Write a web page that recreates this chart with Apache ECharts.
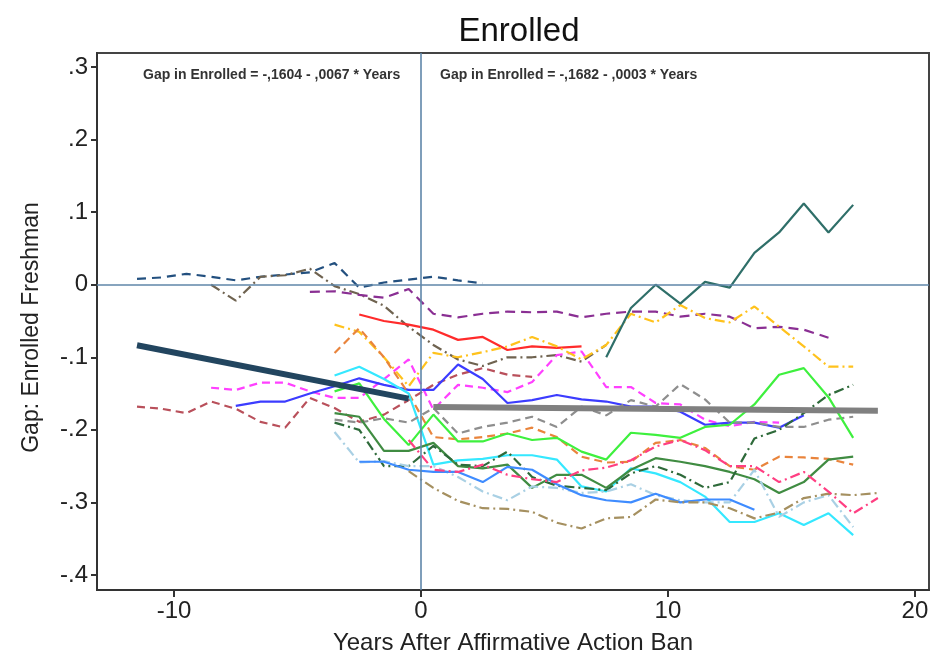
<!DOCTYPE html>
<html>
<head>
<meta charset="utf-8">
<script src="https://cdn.jsdelivr.net/npm/echarts@6/dist/echarts.min.js"></script>
<style>
  html, body { margin: 0; padding: 0; background: #ffffff; }
  #chart { width: 933px; height: 657px; }
</style>
</head>
<body>
<div id="chart"></div>
<script>
// Enrollment gap by campus, in half-year steps relative to the ban (first value at *Start).
const navyDashStart = -11.5;
const navyDash = [0.008, 0.010, 0.015, 0.011, 0.006, 0.011, 0.014, 0.017, 0.030, -0.004, 0.003, 0.007, 0.011, 0.006, 0.002];

const oliveDashDotStart = -8.5;
const oliveDashDot = [0.000, -0.022, 0.011, 0.013, 0.022, -0.002, -0.013, -0.029, -0.058, -0.083, -0.103, -0.112, -0.100, -0.100, -0.097, -0.106, -0.083];

const purpleDashStart = -4.5;
const purpleDash = [-0.010, -0.009, -0.014, -0.018, -0.006, -0.040, -0.045, -0.040, -0.037, -0.038, -0.037, -0.045, -0.040, -0.037, -0.037, -0.044, -0.040, -0.044, -0.060, -0.058, -0.062, -0.073];

const redSolidStart = -2.5;
const redSolid = [-0.041, -0.050, -0.055, -0.062, -0.076, -0.072, -0.090, -0.085, -0.087, -0.085];

const yellowDashDotStart = -3.5;
const yellowDashDot = [-0.055, -0.065, -0.100, -0.140, -0.094, -0.100, -0.093, -0.085, -0.072, -0.085, -0.103, -0.083, -0.040, -0.052, -0.028, -0.046, -0.052, -0.030, -0.058, -0.085, -0.113, -0.113];

const orangeDashStart = -3.5;
const orangeDash = [-0.094, -0.060, -0.100, -0.150, -0.210, -0.213, -0.210, -0.205, -0.197, -0.210, -0.237, -0.245, -0.244, -0.218, -0.214, -0.225, -0.250, -0.255, -0.237, -0.238, -0.240, -0.248];

const cyanSolidStart = -3.5;
const cyanSolid = [-0.125, -0.113, -0.130, -0.150, -0.248, -0.242, -0.240, -0.235, -0.235, -0.241, -0.278, -0.285, -0.253, -0.260, -0.272, -0.292, -0.327, -0.327, -0.315, -0.331, -0.315, -0.345];

const blueSolidStart = -7.5;
const blueSolid = [-0.167, -0.161, -0.161, -0.150, -0.140, -0.129, -0.138, -0.145, -0.145, -0.110, -0.130, -0.163, -0.159, -0.152, -0.158, -0.161, -0.168, -0.168, -0.175, -0.193, -0.190, -0.190, -0.197, -0.180];

const magentaDashStart = -8.5;
const magentaDash = [-0.142, -0.145, -0.135, -0.135, -0.147, -0.156, -0.156, -0.130, -0.103, -0.172, -0.138, -0.142, -0.148, -0.134, -0.097, -0.092, -0.141, -0.141, -0.163, -0.165, -0.186, -0.195, -0.189, -0.190];

const darkRedDashStart = -11.5;
const darkRedDash = [-0.168, -0.171, -0.177, -0.161, -0.171, -0.189, -0.197, -0.156, -0.170, -0.189, -0.179, -0.159, -0.138, -0.124, -0.115, -0.124, -0.127];

const greenSolidStart = -3.5;
const greenSolid = [-0.147, -0.136, -0.185, -0.221, -0.179, -0.216, -0.216, -0.205, -0.214, -0.211, -0.230, -0.241, -0.204, -0.207, -0.211, -0.196, -0.193, -0.165, -0.124, -0.115, -0.155, -0.211];

const darkGreenSolidStart = -3.5;
const darkGreenSolid = [-0.177, -0.182, -0.229, -0.229, -0.218, -0.250, -0.253, -0.248, -0.280, -0.262, -0.262, -0.280, -0.255, -0.239, -0.244, -0.250, -0.258, -0.268, -0.287, -0.272, -0.241, -0.237];

const darkGreenDashDotStart = -3.5;
const darkGreenDashDot = [-0.190, -0.200, -0.250, -0.250, -0.222, -0.248, -0.250, -0.230, -0.265, -0.277, -0.280, -0.283, -0.260, -0.250, -0.262, -0.280, -0.272, -0.212, -0.200, -0.177, -0.152, -0.138];

const grayDashStart = -3.5;
const grayDash = [-0.186, -0.190, -0.184, -0.190, -0.170, -0.205, -0.196, -0.190, -0.182, -0.196, -0.168, -0.180, -0.159, -0.168, -0.137, -0.158, -0.190, -0.190, -0.196, -0.196, -0.186, -0.182];

const lightBlueDashDotStart = -3.5;
const lightBlueDashDot = [-0.203, -0.245, -0.243, -0.250, -0.250, -0.265, -0.285, -0.297, -0.278, -0.280, -0.287, -0.285, -0.275, -0.290, -0.297, -0.300, -0.300, -0.255, -0.320, -0.300, -0.290, -0.334];

const mediumBlueSolidStart = -2.5;
const mediumBlueSolid = [-0.244, -0.244, -0.255, -0.258, -0.258, -0.272, -0.251, -0.255, -0.275, -0.290, -0.297, -0.300, -0.288, -0.300, -0.296, -0.296, -0.310];

const tanDashDotStart = -0.5;
const tanDashDot = [-0.257, -0.280, -0.298, -0.308, -0.309, -0.313, -0.328, -0.336, -0.322, -0.320, -0.296, -0.300, -0.300, -0.308, -0.322, -0.314, -0.294, -0.288, -0.290, -0.287];

const pinkDashDotStart = -0.5;
const pinkDashDot = [-0.214, -0.255, -0.258, -0.248, -0.262, -0.268, -0.272, -0.256, -0.252, -0.242, -0.223, -0.214, -0.228, -0.250, -0.250, -0.272, -0.258, -0.285, -0.315, -0.294];

const tealSolidStart = 7.5;
const tealSolid = [-0.100, -0.032, 0.000, -0.026, 0.004, -0.004, 0.044, 0.072, 0.112, 0.072, 0.110];

// Linear fits before and after the ban: [intercept, slope] and the year span covered.
const fitBeforeCoef = [-0.1604, -0.0067];
const fitBeforeSpan = [-11.5, -0.5];
const fitAfterCoef = [-0.1682, -0.0003];
const fitAfterSpan = [0.5, 18.5];

// Axis ticks.
const xTicks = [-10, 0, 10, 20];
const yTicks = [-0.4, -0.3, -0.2, -0.1, 0, 0.1, 0.2, 0.3];

// ---------------------------------------------------------------
const FONT = '"Liberation Sans", Arial, Helvetica, sans-serif';
const DASH = [8, 5];
const DASHDOT = [10, 4, 2, 4];

function points(start, vals) {
  return vals.map((v, i) => [start + i, v]);
}

// Stata-style number: leading zero dropped, decimal comma.
function stataNum(v) {
  return v.toFixed(4).replace(/^0\./, ',');
}
function fitText(coef) {
  const a = coef[0], b = coef[1];
  const sign = b < 0 ? '-' : '+';
  return 'Gap in Enrolled = -' + stataNum(Math.abs(a)) + ' ' + sign + ' ' + stataNum(Math.abs(b)) + ' * Years';
}

function fitLine(coef, span) {
  return span.map(x => [x, coef[0] + coef[1] * x]);
}

// Stata tick label: ".3", "-.1", "0"
function yLabel(v) {
  if (Math.abs(v) < 1e-9) return '0';
  const s = Math.abs(v).toFixed(1).replace(/^0/, '');
  return (v < 0 ? '-' : '') + s;
}

const campusLines = [
  { data: points(navyDashStart, navyDash), color: '#23507f', type: [9, 6] },
  { data: points(oliveDashDotStart, oliveDashDot), color: '#6f6350', type: DASHDOT },
  { data: points(purpleDashStart, purpleDash), color: '#8a2f93', type: [10, 6] },
  { data: points(darkRedDashStart, darkRedDash), color: '#b9505b', type: DASH },
  { data: points(magentaDashStart, magentaDash), color: '#ff40ff', type: DASH },
  { data: points(blueSolidStart, blueSolid), color: '#3c3cff', type: 'solid' },
  { data: points(redSolidStart, redSolid), color: '#ff2b2b', type: 'solid' },
  { data: points(yellowDashDotStart, yellowDashDot), color: '#ffc21c', type: DASHDOT },
  { data: points(orangeDashStart, orangeDash), color: '#e9843c', type: DASH },
  { data: points(cyanSolidStart, cyanSolid), color: '#35e8ff', type: 'solid' },
  { data: points(grayDashStart, grayDash), color: '#8e8e8e', type: DASH },
  { data: points(greenSolidStart, greenSolid), color: '#3ef03e', type: 'solid' },
  { data: points(darkGreenSolidStart, darkGreenSolid), color: '#408c42', type: 'solid' },
  { data: points(darkGreenDashDotStart, darkGreenDashDot), color: '#2e6a3a', type: DASHDOT },
  { data: points(lightBlueDashDotStart, lightBlueDashDot), color: '#a9d0e4', type: DASHDOT },
  { data: points(mediumBlueSolidStart, mediumBlueSolid), color: '#3f8cff', type: 'solid' },
  { data: points(tanDashDotStart, tanDashDot), color: '#a59060', type: DASHDOT },
  { data: points(pinkDashDotStart, pinkDashDot), color: '#ff3f82', type: DASHDOT },
  { data: points(tealSolidStart, tealSolid), color: '#2f6f69', type: 'solid' }
];

const series = [];

// Reference lines at zero gap and at the year of the ban
series.push({
  type: 'line', data: [], silent: true, z: 1,
  markLine: {
    silent: true, symbol: 'none', animation: false,
    label: { show: false },
    lineStyle: { color: '#5f86a9', width: 1.6, type: 'solid' },
    data: [{ yAxis: 0 }, { xAxis: 0 }]
  }
});

campusLines.forEach(s => {
  series.push({
    type: 'line', data: s.data, showSymbol: false, symbol: 'none',
    z: 2, silent: true,
    lineStyle: { color: s.color, width: 2.2, type: s.type, cap: 'butt' }
  });
});

series.push({
  type: 'line', data: fitLine(fitBeforeCoef, fitBeforeSpan), showSymbol: false, symbol: 'none',
  z: 5, silent: true, lineStyle: { color: '#22455f', width: 6, cap: 'butt' }
});
series.push({
  type: 'line', data: fitLine(fitAfterCoef, fitAfterSpan), showSymbol: false, symbol: 'none',
  z: 5, silent: true, lineStyle: { color: '#808080', width: 6, cap: 'butt' }
});

const chart = echarts.init(document.getElementById('chart'), null, { renderer: 'canvas' });

chart.setOption({
  animation: false,
  backgroundColor: '#ffffff',
  textStyle: { fontFamily: FONT },
  title: {
    text: 'Enrolled', left: 514, top: 10, textAlign: 'center',
    textStyle: { fontFamily: FONT, fontSize: 33, fontWeight: 'normal', color: '#111' }
  },
  grid: {
    left: 97, right: 4, top: 53, bottom: 67,
    outerBoundsMode: 'none', containLabel: false,
    show: true, borderColor: '#444', borderWidth: 2, backgroundColor: '#ffffff'
  },
  xAxis: {
    type: 'value', min: -13.12, max: 20.57,
    name: 'Years After Affirmative Action Ban', nameLocation: 'middle', nameGap: 41,
    nameTextStyle: { fontFamily: FONT, fontSize: 24, color: '#222' },
    axisLine: { show: true, onZero: false, lineStyle: { color: '#333', width: 2 } },
    axisTick: { show: true, length: 7, customValues: xTicks, lineStyle: { color: '#333', width: 2 } },
    axisLabel: { customValues: xTicks, fontSize: 24, color: '#222', margin: 9, fontFamily: FONT },
    splitLine: { show: false }
  },
  yAxis: {
    type: 'value', min: -0.4207, max: 0.3193,
    name: 'Gap: Enrolled Freshman', nameLocation: 'middle', nameGap: 54, nameRotate: 90,
    nameTextStyle: { fontFamily: FONT, fontSize: 23, color: '#222', padding: [0, 12, 0, 0] },
    axisLine: { show: true, onZero: false, lineStyle: { color: '#333', width: 2 } },
    axisTick: { show: true, length: 6, customValues: yTicks, lineStyle: { color: '#333', width: 2 } },
    axisLabel: { customValues: yTicks, fontSize: 24, color: '#222', margin: 9, fontFamily: FONT,
                 formatter: v => yLabel(v) },
    splitLine: { show: false }
  },
  graphic: [
    { type: 'text', left: 143, top: 68, z: 10, silent: true,
      style: { text: fitText(fitBeforeCoef), fill: '#333', font: 'bold 14px ' + FONT } },
    { type: 'text', left: 440, top: 68, z: 10, silent: true,
      style: { text: fitText(fitAfterCoef), fill: '#333', font: 'bold 14px ' + FONT } }
  ],
  series: series
});
</script>
</body>
</html>
